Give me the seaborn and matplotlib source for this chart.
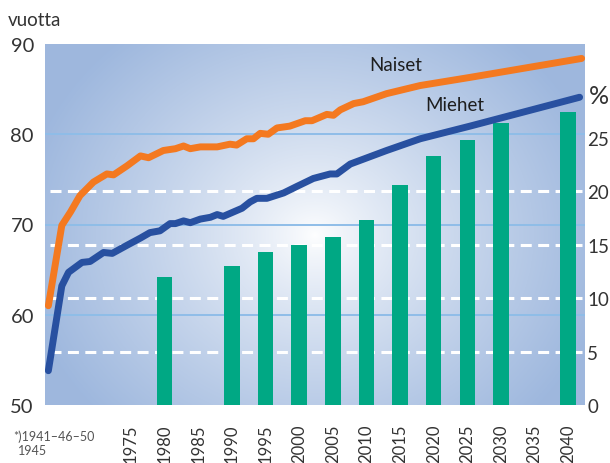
import numpy as np
import matplotlib
matplotlib.use("Agg")
import matplotlib.pyplot as plt
import matplotlib.transforms as mtransforms
import seaborn as sns

# elinajanodote (vuotta), luettu kuvasta
naiset_x = [1962.7, 1964.7, 1966.0, 1967.4, 1969.4, 1971.4, 1972.4, 1974.4, 1976.4, 1977.6,
            1979.8, 1981.6, 1982.8, 1983.8, 1985.3, 1987.8, 1989.7, 1990.7, 1992.2, 1993.2,
            1994.2, 1995.4, 1996.7, 1998.6, 2000.9, 2001.9, 2004.1, 2005.1, 2006.1, 2008.1,
            2009.5, 2013.0, 2018.0, 2025.4, 2042.0]
naiset_y = [61.0, 69.9, 71.4, 73.2, 74.7, 75.6, 75.5, 76.5, 77.6, 77.4,
            78.2, 78.4, 78.7, 78.4, 78.6, 78.6, 78.9, 78.8, 79.5, 79.5,
            80.1, 80.0, 80.7, 80.9, 81.5, 81.5, 82.2, 82.1, 82.7, 83.4,
            83.6, 84.5, 85.4, 86.3, 88.4]

miehet_x = [1962.7, 1964.7, 1965.7, 1967.7, 1968.9, 1970.9, 1972.2, 1974.4, 1976.4, 1977.8,
            1979.3, 1980.8, 1981.6, 1982.8, 1983.8, 1985.3, 1986.8, 1987.8, 1988.7, 1991.5,
            1992.7, 1993.7, 1995.2, 1997.7, 1999.6, 2002.1, 2004.6, 2005.6, 2007.6, 2013.0,
            2018.0, 2025.4, 2041.7]
miehet_y = [53.8, 63.2, 64.7, 65.8, 65.9, 66.9, 66.8, 67.7, 68.5, 69.1,
            69.3, 70.1, 70.1, 70.4, 70.2, 70.6, 70.8, 71.1, 70.9, 71.8,
            72.5, 72.9, 72.9, 73.5, 74.2, 75.1, 75.6, 75.6, 76.7, 78.2,
            79.5, 80.9, 84.1]

# pylvaat (%), oikea asteikko
bar_years = [1980, 1990, 1995, 2000, 2005, 2010, 2015, 2020, 2025, 2030, 2040]
bar_pct = [12.0, 13.0, 14.3, 15.0, 15.7, 17.3, 20.6, 23.3, 24.8, 26.4, 27.4]

tick_years = list(range(1975, 2041, 5))
left_ticks = [50, 60, 70, 80, 90]
right_ticks = [0, 5, 10, 15, 20, 25]

sns.set_theme(style="white")
plt.rcParams['font.family'] = ['Lato', 'DejaVu Sans']
txt = '#333333'

fig = plt.figure(figsize=(6.1, 4.64), dpi=100)
ax = fig.add_axes([45/610, 58/464, 540/610, 361/464])
ax2 = ax.twinx()

# taustan liukuvari
gx, gy = np.meshgrid(np.linspace(0, 1, 400), np.linspace(0, 1, 400))
r = np.sqrt(((gx - 0.5) / 0.55) ** 2 + ((gy - 0.47) / 0.72) ** 2)
t = np.clip(r, 0, 1) ** 0.8
edge = np.array([0.62, 0.72, 0.87])
img = (1 - t)[..., None] * np.ones(3) + t[..., None] * edge
ax.imshow(img, extent=[0, 1, 0, 1], transform=ax.transAxes, origin='lower',
          aspect='auto', zorder=0)

# ruudukko
trans = mtransforms.blended_transform_factory(ax.transAxes, ax2.transData)
for v in [60, 70, 80]:
    ax.plot([0, 1], [v, v], transform=trans, color='#8fbde8', lw=1.4, zorder=1)
for p in [5, 10, 15, 20]:
    ax.axhline(p, xmin=0.01, xmax=0.995, color='white', lw=2.2,
               dashes=(3.6, 2.1), zorder=1)

sns.barplot(x=bar_years, y=bar_pct, native_scale=True, width=0.46,
            color='#00a884', saturation=1, errorbar=None, ax=ax, zorder=2,
            edgecolor='none', linewidth=0)

sns.lineplot(x=naiset_x, y=naiset_y, ax=ax2, color='#f47920', linewidth=5,
             sort=False, estimator=None, solid_capstyle='round', solid_joinstyle='round')
sns.lineplot(x=miehet_x, y=miehet_y, ax=ax2, color='#2850a0', linewidth=5,
             sort=False, estimator=None, solid_capstyle='round', solid_joinstyle='round')

ax.set_xlim(1962.2, 2042.5)
ax.set_ylim(0, 33.74)
ax2.set_ylim(50, 90)

ax.set_xticks(tick_years)
ax.set_xticklabels([str(y) for y in tick_years], rotation=90, fontsize=12, color=txt)
ax.yaxis.tick_right()
ax.set_yticks(right_ticks)
ax.set_yticklabels([str(v) for v in right_ticks], fontsize=13.5, color=txt)
ax2.yaxis.tick_left()
ax2.set_yticks(left_ticks)
ax2.set_yticklabels([str(v) for v in left_ticks], fontsize=14.5, color=txt)
ax.tick_params(axis='x', length=0, pad=13)
ax.tick_params(axis='y', length=0, pad=1.5)
ax2.tick_params(axis='y', length=0, pad=8)
ax.set_xlabel('')
ax.set_ylabel('')
ax2.set_ylabel('')
for a in (ax, ax2):
    for s in a.spines.values():
        s.set_visible(False)

ax2.text(2014.3, 87.7, 'Naiset', ha='center', va='center', fontsize=13.5,
         color='#1e1e1e')
ax2.text(2023.2, 83.35, 'Miehet', ha='center', va='center', fontsize=13.5,
         color='#1e1e1e')

fig.text(8/610, 1 - 20/464, 'vuotta', ha='left', va='center', fontsize=13.5, color=txt)
fig.text(589/610, 1 - 97/464, '%', ha='left', va='center', fontsize=18, color=txt)
fig.text(13/610, 1 - 437/464, '*)1941–46–50', ha='left', va='center', fontsize=9,
         color='#555555')
fig.text(18/610, 1 - 451/464, '1945', ha='left', va='center', fontsize=9,
         color='#555555')

fig.savefig('out.png', dpi=100)
